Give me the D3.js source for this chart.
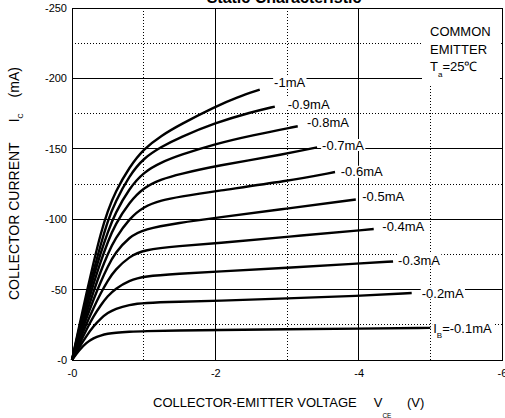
<!DOCTYPE html>
<html>
<head>
<meta charset="utf-8">
<script src="https://cdn.jsdelivr.net/npm/d3@7"></script>
<style>
  body { margin:0; background:#fff; }
  svg { display:block; font-family:"Liberation Sans", Arial, sans-serif; }
  .grid-major { stroke:#000; stroke-width:1px; shape-rendering:crispEdges; }
  .grid-minor { stroke:#000; stroke-width:1px; stroke-dasharray:1,2; shape-rendering:crispEdges; }
  .curve { fill:none; stroke:#000; stroke-width:2.4px; }
  .tick text { font-size:11px; fill:#000; }
</style>
</head>
<body>
<script>
// V_CE (V) / I_C (mA) points, one array per base current
var ib01 = [[0,0],[-0.1,-7],[-0.2,-12.3],[-0.3,-15.6],[-0.4,-17.5],[-0.5,-18.7],[-0.6,-19.4],[-0.8,-20.1],[-1,-20.5],[-1.5,-21],[-2,-21.3],[-3,-21.8],[-4,-22.3],[-5,-22.8]];
var ib02 = [[0,0],[-0.1,-9],[-0.2,-17],[-0.3,-24],[-0.4,-29.5],[-0.5,-33.5],[-0.6,-36.3],[-0.8,-39.3],[-1,-40.6],[-1.5,-41.4],[-2,-42],[-3,-43.8],[-4,-45.5],[-4.74,-47.6]];
var ib03 = [[0,0],[-0.1,-11],[-0.2,-21.5],[-0.3,-31],[-0.4,-39],[-0.5,-45.5],[-0.6,-50.5],[-0.8,-56.5],[-1,-59.5],[-1.5,-61.3],[-2,-62.7],[-3,-65.5],[-4,-68.5],[-4.48,-70]];
var ib04 = [[0,0],[-0.1,-13],[-0.2,-25.5],[-0.3,-37],[-0.4,-47.5],[-0.5,-56.5],[-0.6,-64],[-0.8,-73.5],[-1,-78.3],[-1.5,-81],[-2,-82.8],[-3,-87.5],[-4.21,-93]];
var ib05 = [[0,0],[-0.1,-15],[-0.2,-29.5],[-0.3,-43],[-0.4,-55.5],[-0.5,-66.5],[-0.6,-76],[-0.8,-87.5],[-1,-93],[-1.5,-97.5],[-2,-101],[-3,-107.5],[-3.96,-114]];
var ib06 = [[0,0],[-0.1,-17],[-0.2,-33],[-0.3,-48.5],[-0.4,-63],[-0.5,-75.5],[-0.6,-86],[-0.8,-100.5],[-1,-109],[-1.25,-113.5],[-1.5,-116],[-2,-120],[-3,-127],[-3.67,-133.5]];
var ib07 = [[0,0],[-0.1,-19],[-0.2,-37],[-0.3,-54],[-0.4,-70],[-0.5,-84],[-0.6,-96],[-0.8,-112],[-1,-122.5],[-1.25,-128.5],[-1.5,-132],[-2,-137.8],[-3,-146.5],[-3.42,-151]];
var ib08 = [[0,0],[-0.1,-21],[-0.2,-40.5],[-0.3,-59],[-0.4,-76],[-0.5,-91],[-0.6,-104],[-0.8,-122],[-1,-133.5],[-1.25,-140.5],[-1.5,-145.5],[-2,-153.5],[-2.5,-159.5],[-3.15,-166]];
var ib09 = [[0,0],[-0.1,-22.5],[-0.2,-43.5],[-0.3,-63],[-0.4,-82],[-0.5,-99],[-0.6,-112],[-0.8,-131],[-1,-143.5],[-1.25,-151.5],[-1.5,-158],[-2,-168.5],[-2.5,-176],[-2.83,-180]];
var ib10 = [[0,0],[-0.1,-24],[-0.2,-47],[-0.3,-69],[-0.4,-90],[-0.5,-106],[-0.6,-119],[-0.8,-137],[-1,-150],[-1.25,-159.5],[-1.5,-167],[-2,-180],[-2.3,-186.5],[-2.62,-192]];
var curves = [ib01, ib02, ib03, ib04, ib05, ib06, ib07, ib08, ib09, ib10];

// curve labels and where they sit (in V / mA)
var labelText = ["=-0.1mA","-0.2mA","-0.3mA","-0.4mA","-0.5mA","-0.6mA","-0.7mA","-0.8mA","-0.9mA","-1mA"];
var labelV = [-5.04,-4.88,-4.55,-4.33,-4.05,-3.75,-3.49,-3.28,-3.01,-2.82];
var labelI = [-22.7,-47.4,-71,-94.7,-116.5,-133.7,-152.7,-169,-181.8,-197.1];

// axes
var xTicks = [0,-2,-4,-6];
var yTicks = [0,-50,-100,-150,-200,-250];
var xMajor = [-2,-4], xMinor = [-1,-3,-5];
var yMajor = [-50,-100,-150,-200], yMinor = [-25,-75,-125,-175,-225];

var W = 505, H = 418;
var plotL = 72, plotT = 8, plotR = 502, plotB = 360;

var svg = d3.select("body").append("svg")
    .attr("width", W)
    .attr("height", H);

var x = d3.scaleLinear().domain([0,-6]).range([plotL, plotR]);
var y = d3.scaleLinear().domain([0,-250]).range([plotB, plotT]);

// grid
var grid = svg.append("g");
grid.selectAll(".vmin").data(xMinor).enter().append("line")
    .attr("class","grid-minor")
    .attr("x1", d => x(d)).attr("x2", d => x(d))
    .attr("y1", plotT).attr("y2", plotB);
grid.selectAll(".hmin").data(yMinor).enter().append("line")
    .attr("class","grid-minor")
    .attr("x1", plotL).attr("x2", plotR)
    .attr("y1", d => y(d)).attr("y2", d => y(d));
grid.selectAll(".vmaj").data(xMajor).enter().append("line")
    .attr("class","grid-major")
    .attr("x1", d => x(d)).attr("x2", d => x(d))
    .attr("y1", plotT).attr("y2", plotB);
grid.selectAll(".hmaj").data(yMajor).enter().append("line")
    .attr("class","grid-major")
    .attr("x1", plotL).attr("x2", plotR)
    .attr("y1", d => y(d)).attr("y2", d => y(d));

// condition box
svg.append("rect")
    .attr("x", 422).attr("y", plotT + 1)
    .attr("width", 78).attr("height", 76)
    .attr("fill", "#fff");
var cond = svg.append("text")
    .attr("x", 430).attr("y", 36)
    .style("font-size", "13px");
cond.append("tspan").attr("x", 430).attr("y", 36).text("COMMON");
cond.append("tspan").attr("x", 430).attr("y", 53.5).text("EMITTER");
var ta = svg.append("text").attr("x", 430).attr("y", 70.5).style("font-size", "13px");
ta.append("tspan").text("T");
ta.append("tspan").attr("dy", 6).style("font-size", "8px").text("a");
ta.append("tspan").attr("dy", -6).text("=25\u2103");

// frame
svg.append("rect")
    .attr("x", plotL).attr("y", plotT)
    .attr("width", plotR - plotL).attr("height", plotB - plotT)
    .attr("fill", "none").attr("stroke", "#000")
    .style("shape-rendering", "crispEdges");

// characteristic curves
var line = d3.line()
    .x(d => x(d[0]))
    .y(d => y(d[1]))
    .curve(d3.curveBasis);

svg.selectAll(".curve").data(curves).enter().append("path")
    .attr("class", "curve")
    .attr("d", line);

// curve labels on white patches
var labels = svg.append("g").style("font-size", "13px");
labelText.forEach(function(t, i) {
  var g = labels.append("g");
  var txt = g.append("text")
      .attr("x", x(labelV[i]))
      .attr("y", y(labelI[i]))
      .attr("dy", "0.35em");
  if (i === 0) {
    txt.append("tspan").text("I");
    txt.append("tspan").attr("dy", 5.5).style("font-size", "8px").text("B");
    txt.append("tspan").attr("dy", -5.5).text(t);
  } else {
    txt.text(t);
  }
  var bb = txt.node().getBBox();
  g.insert("rect", "text")
      .attr("x", bb.x - 1).attr("y", y(labelI[i]) - 6)
      .attr("width", bb.width + 2).attr("height", 12)
      .attr("fill", "#fff");
});

// axes
var yAxis = svg.append("g")
    .attr("transform", "translate(" + plotL + ",0)")
    .call(d3.axisLeft(y).tickValues(yTicks).tickSize(0).tickPadding(5)
      .tickFormat(d => "-" + Math.abs(d)));
yAxis.select(".domain").remove();

var xAxis = svg.append("g")
    .attr("transform", "translate(0," + plotB + ")")
    .call(d3.axisBottom(x).tickValues(xTicks).tickSize(0).tickPadding(9)
      .tickFormat(d => "-" + Math.abs(d)));
xAxis.select(".domain").remove();
svg.selectAll(".tick text").style("font-family", "inherit");

// title (runs off the top edge in the original)
svg.append("text")
    .attr("x", 284).attr("y", 2.5)
    .attr("text-anchor", "middle")
    .style("font-size", "16px").style("font-weight", "bold")
    .text("Static Characteristic");

// axis titles
var xl = svg.append("text")
    .attr("x", 153).attr("y", 406.5)
    .style("font-size", "13px");
xl.append("tspan").text("COLLECTOR-EMITTER VOLTAGE");
xl.append("tspan").attr("dx", 17).text("V");
xl.append("tspan").attr("dy", 11).style("font-size", "6.5px").text("CE");
xl.append("tspan").attr("dy", -11).attr("dx", 15.5).text("(V)");

var yl = svg.append("text")
    .attr("transform", "rotate(-90)")
    .attr("x", -300).attr("y", 19)
    .style("font-size", "14px");
yl.append("tspan").text("COLLECTOR CURRENT");
yl.append("tspan").attr("dx", 20).text("I");
yl.append("tspan").attr("dy", 4).style("font-size", "7px").text("C");
yl.append("tspan").attr("dy", -4).attr("dx", 16).text("(mA)");
</script>
</body>
</html>
